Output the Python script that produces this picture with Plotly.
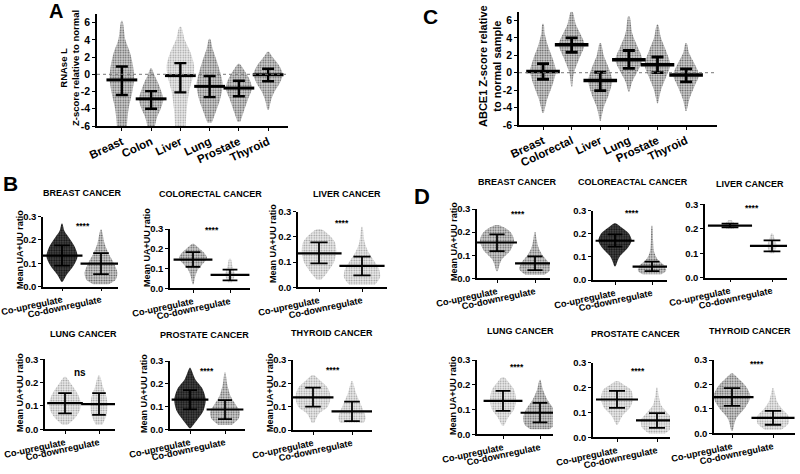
import plotly.graph_objects as go

W, H = 800, 474
FONT = "Liberation Sans, Arial"

# ---------------- Panel A : RNAse L z-scores ----------------
A_cats = ["Breast", "Colon", "Liver", "Lung", "Prostate", "Thyroid"]
A_mean = [-0.65, -2.85, -0.15, -1.40, -1.60, -0.05]
A_lo = [-2.40, -4.00, -2.10, -2.65, -2.55, -0.80]
A_hi = [0.90, -1.95, 1.30, -0.20, -0.75, 0.65]
A_prof_y = [[-6, -4, -2, -0.5, 1, 2.5, 4, 6.2],
            [-6, -5, -4, -2.9, -2, -1, 0, 0.7],
            [-6, -4, -2, 0, 1, 2.5, 4, 5.5],
            [-5.6, -4, -3, -1.3, 0, 1.5, 3, 4.1],
            [-5.5, -4.5, -3, -1.6, -0.5, 0.5, 1.2],
            [-4.1, -3, -2, -1, 0, 1, 2, 2.6]]
A_prof_w = [[0.17, 0.23, 0.36, 0.42, 0.38, 0.28, 0.12, 0.02],
            [0.13, 0.20, 0.33, 0.42, 0.35, 0.24, 0.10, 0.02],
            [0.18, 0.22, 0.30, 0.45, 0.47, 0.35, 0.15, 0.03],
            [0.08, 0.25, 0.35, 0.45, 0.38, 0.25, 0.10, 0.02],
            [0.05, 0.15, 0.30, 0.45, 0.35, 0.18, 0.03],
            [0.03, 0.10, 0.22, 0.40, 0.50, 0.38, 0.15, 0.03]]
A_tone = [1, 1, 0, 1, 1, 1]

# ---------------- Panel C : ABCE1 z-scores ----------------
C_cats = ["Breast", "Colorectal", "Liver", "Lung", "Prostate", "Thyroid"]
C_mean = [0.15, 3.20, -0.90, 1.50, 0.90, -0.25]
C_lo = [-0.75, 2.35, -2.05, 0.50, 0.00, -1.05]
C_hi = [1.05, 4.00, 0.05, 2.55, 1.80, 0.45]
C_prof_y = [[-4.6, -3, -1.5, 0.2, 1.5, 3, 4.5, 5.6],
            [-1.6, 0, 1.5, 3.2, 4.5, 5.5, 7],
            [-5.5, -4, -2.5, -0.9, 0.5, 2, 3.4],
            [-2.2, -1, 0.3, 1.5, 3, 4.5, 6.5],
            [-3.5, -2, -0.5, 0.9, 2.5, 4, 5.5],
            [-4.4, -3, -1.5, -0.25, 1, 2.3, 3.4]]
C_prof_w = [[0.03, 0.15, 0.32, 0.45, 0.35, 0.18, 0.06, 0.02],
            [0.02, 0.08, 0.25, 0.45, 0.30, 0.15, 0.03],
            [0.02, 0.12, 0.30, 0.42, 0.30, 0.12, 0.02],
            [0.02, 0.12, 0.33, 0.47, 0.30, 0.12, 0.02],
            [0.02, 0.12, 0.30, 0.45, 0.30, 0.12, 0.02],
            [0.02, 0.12, 0.30, 0.45, 0.30, 0.10, 0.02]]
C_tone = [1, 1, 1, 1, 1, 1]

# ---------------- Panels B and D : UA+UU ratio ----------------
GROUPS = ["Co-upregulate", "Co-downregulate"]
Y_TITLE = "Mean UA+UU ratio"

B_titles = ["BREAST CANCER", "COLORECTAL CANCER", "LIVER CANCER",
            "LUNG CANCER", "PROSTATE CANCER", "THYROID CANCER"]
B_sig = ["****", "****", "****", "ns", "****", "****"]
B_up_mean = [0.133, 0.145, 0.135, 0.112, 0.130, 0.140]
B_up_lo = [0.090, 0.108, 0.095, 0.068, 0.088, 0.100]
B_up_hi = [0.177, 0.183, 0.178, 0.155, 0.172, 0.182]
B_dn_mean = [0.098, 0.068, 0.085, 0.108, 0.087, 0.080]
B_dn_lo = [0.053, 0.040, 0.047, 0.062, 0.045, 0.038]
B_dn_hi = [0.143, 0.095, 0.122, 0.155, 0.128, 0.122]
B_up_prof_y = [[0.02, 0.05, 0.09, 0.13, 0.17, 0.21, 0.24, 0.27],
               [0.02, 0.06, 0.10, 0.13, 0.155, 0.18, 0.20, 0.225],
               [0.03, 0.06, 0.10, 0.14, 0.18, 0.21, 0.23],
               [0.02, 0.05, 0.08, 0.11, 0.15, 0.19, 0.225],
               [0.005, 0.04, 0.08, 0.13, 0.18, 0.22, 0.27],
               [0.03, 0.07, 0.10, 0.14, 0.18, 0.21, 0.235]]
B_up_prof_w = [[0.02, 0.12, 0.30, 0.40, 0.33, 0.18, 0.06, 0.01],
               [0.02, 0.06, 0.15, 0.30, 0.38, 0.30, 0.18, 0.02],
               [0.05, 0.20, 0.35, 0.40, 0.37, 0.22, 0.05],
               [0.08, 0.30, 0.43, 0.47, 0.38, 0.20, 0.02],
               [0.02, 0.20, 0.38, 0.45, 0.35, 0.15, 0.01],
               [0.03, 0.15, 0.38, 0.45, 0.38, 0.20, 0.03]]
B_dn_prof_y = [[0.01, 0.03, 0.06, 0.10, 0.14, 0.18, 0.245],
               [0.03, 0.06, 0.08, 0.11, 0.15],
               [0.01, 0.04, 0.07, 0.10, 0.14, 0.18, 0.24],
               [0.02, 0.06, 0.10, 0.14, 0.18, 0.23],
               [0.02, 0.05, 0.08, 0.11, 0.15, 0.20, 0.25],
               [0.03, 0.05, 0.08, 0.12, 0.16, 0.21]]
B_dn_prof_w = [[0.20, 0.38, 0.42, 0.33, 0.20, 0.10, 0.01],
               [0.05, 0.12, 0.12, 0.07, 0.02],
               [0.30, 0.42, 0.40, 0.30, 0.15, 0.06, 0.01],
               [0.10, 0.22, 0.25, 0.22, 0.12, 0.02],
               [0.20, 0.40, 0.42, 0.30, 0.15, 0.06, 0.01],
               [0.30, 0.35, 0.30, 0.20, 0.10, 0.01]]
B_up_tone = [2, 1, 0, 0, 2, 0]
B_dn_tone = [1, 0, 0, 0, 1, 0]

D_titles = ["BREAST CANCER", "COLOREACTAL CANCER", "LIVER CANCER",
            "LUNG CANCER", "PROSTATE CANCER", "THYROID CANCER"]
D_sig = ["****"] * 6
D_up_mean = [0.155, 0.170, 0.213, 0.135, 0.152, 0.148]
D_up_lo = [0.118, 0.145, 0.206, 0.095, 0.118, 0.112]
D_up_hi = [0.190, 0.197, 0.221, 0.175, 0.187, 0.185]
D_dn_mean = [0.065, 0.058, 0.130, 0.087, 0.068, 0.063]
D_dn_lo = [0.035, 0.038, 0.108, 0.048, 0.038, 0.035]
D_dn_hi = [0.095, 0.080, 0.153, 0.127, 0.097, 0.092]
D_up_prof_y = [[0.03, 0.08, 0.12, 0.16, 0.19, 0.215, 0.23],
               [0.06, 0.10, 0.14, 0.17, 0.20, 0.225, 0.245],
               [0.20, 0.21, 0.22, 0.235],
               [0.035, 0.07, 0.10, 0.14, 0.18, 0.21, 0.23],
               [0.05, 0.09, 0.12, 0.155, 0.19, 0.21, 0.225],
               [0.01, 0.06, 0.10, 0.15, 0.19, 0.22, 0.245]]
D_up_prof_w = [[0.02, 0.12, 0.35, 0.45, 0.40, 0.25, 0.05],
               [0.02, 0.12, 0.35, 0.45, 0.38, 0.20, 0.03],
               [0.08, 0.15, 0.12, 0.03],
               [0.03, 0.15, 0.30, 0.35, 0.30, 0.15, 0.03],
               [0.02, 0.15, 0.33, 0.40, 0.35, 0.18, 0.03],
               [0.02, 0.10, 0.30, 0.45, 0.35, 0.18, 0.02]]
D_dn_prof_y = [[0.015, 0.04, 0.07, 0.10, 0.13, 0.17, 0.20],
               [0.025, 0.04, 0.06, 0.09, 0.12, 0.17, 0.235],
               [0.10, 0.12, 0.14, 0.16, 0.18],
               [0.02, 0.04, 0.07, 0.10, 0.14, 0.18, 0.22],
               [0.015, 0.04, 0.07, 0.10, 0.13, 0.17, 0.20],
               [0.015, 0.04, 0.07, 0.10, 0.13, 0.16, 0.185]]
D_dn_prof_w = [[0.25, 0.42, 0.35, 0.20, 0.10, 0.04, 0.01],
               [0.25, 0.38, 0.35, 0.15, 0.06, 0.03, 0.01],
               [0.05, 0.10, 0.10, 0.06, 0.02],
               [0.25, 0.42, 0.45, 0.38, 0.20, 0.08, 0.01],
               [0.20, 0.38, 0.40, 0.25, 0.10, 0.04, 0.01],
               [0.20, 0.38, 0.38, 0.22, 0.10, 0.05, 0.01]]
D_up_tone = [1, 2, 0, 0, 0, 1]
D_dn_tone = [1, 1, 0, 1, 0, 0]

# ---------------- styling ----------------
TONES = {
    0: dict(fg="#9a9a9a", bg="#ececec", sol=0.3),
    1: dict(fg="#5a5a5a", bg="#d2d2d2", sol=0.35),
    2: dict(fg="#111111", bg="#4a4a4a", sol=0.45),
}

fig = go.Figure()
layout = {}
annotations = []
shapes = []


def xd(p0, p1):
    return [p0 / W, p1 / W]


def yd(ptop, pbot):
    return [1 - pbot / H, 1 - ptop / H]


def add_cloud(k, xc, ys, ws, tone):
    t = TONES[tone]
    xs = [xc - w for w in ws] + [xc + w for w in ws[::-1]]
    yy = list(ys) + list(ys[::-1])
    fig.add_trace(go.Scatter(
        x=xs, y=yy, mode="lines", fill="toself",
        line=dict(width=0, shape="spline", smoothing=0.8),
        fillcolor=t["bg"],
        fillpattern=dict(shape=".", fgcolor=t["fg"], bgcolor=t["bg"],
                         size=2.5, solidity=t["sol"]),
        xaxis="x%d" % k, yaxis="y%d" % k, hoverinfo="skip", showlegend=False))


def add_bars(k, xs, means, los, his, barw, capw, lw):
    fig.add_trace(go.Scatter(
        x=xs, y=means, mode="markers",
        marker=dict(symbol="line-ew", size=barw, color="black",
                    line=dict(width=lw, color="black")),
        error_y=dict(type="data", symmetric=False,
                     array=[h - m for h, m in zip(his, means)],
                     arrayminus=[m - l for m, l in zip(means, los)],
                     width=capw, thickness=lw * 0.8, color="black"),
        xaxis="x%d" % k, yaxis="y%d" % k, hoverinfo="skip", showlegend=False))


def set_axes(k, xdom, xrng, ydom, yrng, ticktext, tickangle, ytickvals,
             yticktext, catfont, yfont):
    suffix = "" if k == 1 else str(k)
    layout["xaxis" + suffix] = dict(
        domain=xdom, range=xrng, anchor="y%d" % k, showgrid=False, zeroline=False,
        automargin=False,
        showline=True, linecolor="black", linewidth=1.5,
        ticks="outside", ticklen=3, tickwidth=1.2, tickcolor="black",
        tickvals=list(range(len(ticktext))), ticktext=ticktext,
        tickangle=tickangle, ticklabeloverflow="allow",
        tickfont=dict(family=FONT, size=catfont, color="black", weight="bold"))
    layout["yaxis" + suffix] = dict(
        domain=ydom, range=yrng, anchor="x%d" % k, showgrid=False, zeroline=False,
        automargin=False,
        showline=True, linecolor="black", linewidth=1.5,
        ticks="outside", ticklen=3, tickwidth=1.2, tickcolor="black",
        tickvals=ytickvals, ticktext=yticktext, ticklabeloverflow="allow",
        tickfont=dict(family=FONT, size=yfont, color="black", weight="bold"))


def ann(px, py, text, size, angle=0):
    annotations.append(dict(
        x=px / W, y=1 - py / H, xref="paper", yref="paper", text=text,
        showarrow=False, xanchor="center", yanchor="middle", textangle=angle,
        font=dict(family=FONT, size=size, color="black", weight="bold")))


# ---- Panel A ----
k = 1
for i in range(len(A_cats)):
    add_cloud(k, i, A_prof_y[i], A_prof_w[i], A_tone[i])
add_bars(k, list(range(6)), A_mean, A_lo, A_hi, 22, 6, 3)
set_axes(k, xd(97, 288), [-0.85, 5.68], yd(14, 126), [-6, 7], A_cats, -25,
         [-6, -4, -2, 0, 2, 4, 6], ["-6", "-4", "-2", "0", "2", "4", "6"], 11.5, 10.5)
shapes.append(dict(type="line", xref="x domain", yref="y", x0=0, x1=1, y0=0, y1=0,
                   line=dict(color="#777777", width=1, dash="dot")))
ann(69, 68, "RNAse L<br>Z-score relative to normal", 9.5, -90)
ann(56, 11, "A", 20)

# ---- Panel C ----
k = 2
for i in range(len(C_cats)):
    add_cloud(k, i, C_prof_y[i], C_prof_w[i], C_tone[i])
add_bars(k, list(range(6)), C_mean, C_lo, C_hi, 24, 6, 3.5)
set_axes(k, xd(519, 717), [-0.84, 6.08], yd(11.7, 125), [-6, 7], C_cats, -25,
         [-6, -4, -2, 0, 2, 4, 6], ["-6", "-4", "-2", "0", "2", "4", "6"], 11.5, 10.5)
shapes.append(dict(type="line", xref="x2 domain", yref="y2", x0=0, x1=1, y0=0, y1=0,
                   line=dict(color="#777777", width=1, dash="dot")))
ann(490, 66, "ABCE1 Z-score relative<br>to normal sample", 11, -90)
ann(430, 16, "C", 21)

# ---- Panels B and D small multiples ----
# (axis-left px, axis-right px, cat0 px, cat1 px, px of 0.3, px of 0.0)
B_pos = [(43, 118, 62, 101, 216.7, 286.5),
         (170, 250, 193, 230, 229, 288.3),
         (298, 387, 319, 362, 211.7, 287.3),
         (45, 115, 65, 99, 359.3, 429.3),
         (170, 245, 190, 225, 361, 429.3),
         (293, 372, 313, 352, 360, 430)]
B_title_pos = [(82, 193), (210, 194), (347, 194), (83, 334), (205, 335), (332, 333)]
B_sig_pos = [(83, 226), (212, 230), (342, 223), (80, 372), (207, 371), (333, 370)]
B_ytitle_pos = [(20, 250), (147, 248), (273, 244), (20, 393), (144, 394), (270, 393)]
D_pos = [(477, 550, 497, 535, 209, 278.3),
         (593, 667, 615, 652, 210.7, 280),
         (705, 787, 730, 772, 204.3, 277.7),
         (477, 553, 503, 540, 360, 434.3),
         (593, 670, 617, 657, 362.7, 437.3),
         (714, 795, 732, 773, 360, 433.3)]
D_title_pos = [(517, 182), (633, 182), (750, 184), (520, 331), (635, 334), (750, 331)]
D_sig_pos = [(518, 214), (632, 213), (752, 208), (517, 367), (638, 371), (757, 364)]
D_ytitle_pos = [(454, 242), None, None, (453, 396), None, None]

panels = [
    (B_pos, B_titles, B_title_pos, B_sig, B_sig_pos, B_ytitle_pos, 9,
     B_up_mean, B_up_lo, B_up_hi, B_dn_mean, B_dn_lo, B_dn_hi,
     B_up_prof_y, B_up_prof_w, B_dn_prof_y, B_dn_prof_w, B_up_tone, B_dn_tone),
    (D_pos, D_titles, D_title_pos, D_sig, D_sig_pos, D_ytitle_pos, 9,
     D_up_mean, D_up_lo, D_up_hi, D_dn_mean, D_dn_lo, D_dn_hi,
     D_up_prof_y, D_up_prof_w, D_dn_prof_y, D_dn_prof_w, D_up_tone, D_dn_tone),
]

k = 3
for (pos, titles, tpos, sig, spos, ypos, ysize, um, ul, uh, dm, dl, dh,
     upy, upw, dny, dnw, ut, dt) in panels:
    for j in range(6):
        x0, x1, c0, c1, p3, p0 = pos[j]
        s = c1 - c0
        xr = [(x0 - c0) / s, (x1 - c0) / s]
        add_cloud(k, 0, upy[j], upw[j], ut[j])
        add_cloud(k, 1, dny[j], dnw[j], dt[j])
        barw = 0.75 * s
        add_bars(k, [0, 1], [um[j], dm[j]], [ul[j], dl[j]], [uh[j], dh[j]],
                 barw, 0.2 * s, 2.2)
        set_axes(k, xd(x0, x1), xr, yd(p3, p0), [0, 0.3], GROUPS, -12,
                 [0, 0.1, 0.2, 0.3], ["0.0", "0.1", "0.2", "0.3"], 9.2, 9.5)
        if ypos[j] is not None:
            ann(ypos[j][0], ypos[j][1], Y_TITLE, ysize, -90)
        ann(tpos[j][0], tpos[j][1], titles[j], 9)
        ann(spos[j][0], spos[j][1], sig[j], 8.5 if sig[j] == "****" else 10)
        k += 1

ann(10, 184, "B", 21)
ann(422, 197, "D", 22)

fig.update_layout(
    template="none",
    width=W, height=H, margin=dict(l=0, r=0, t=0, b=0, autoexpand=False),
    paper_bgcolor="white", plot_bgcolor="white",
    showlegend=False, annotations=annotations, shapes=shapes,
    font=dict(family=FONT, color="black"), **layout)

fig.write_html("out.html")
